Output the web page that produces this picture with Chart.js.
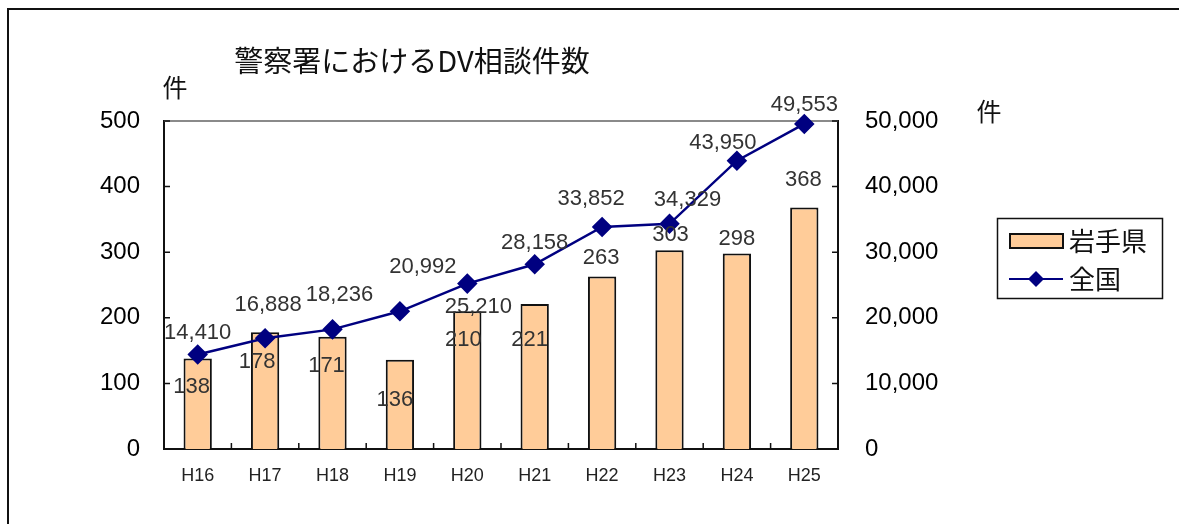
<!DOCTYPE html>
<html>
<head>
<meta charset="utf-8">
<script src="https://cdn.jsdelivr.net/npm/chart.js@4.4.0/dist/chart.umd.min.js"></script>
<style>
  html, body { margin: 0; padding: 0; background: #fff; }
  #wrap { position: relative; width: 1179px; height: 524px; }
  #frame { position: absolute; left: 7px; top: 8px; width: 1200px; height: 600px; border: 2px solid #111; box-sizing: border-box; }
  canvas { position: absolute; left: 0; top: 0; }
</style>
</head>
<body>
<div id="wrap">
  <div id="frame"></div>
  <canvas id="chart" width="1179" height="524"></canvas>
</div>
<script>
// data
const years = ['H16', 'H17', 'H18', 'H19', 'H20', 'H21', 'H22', 'H23', 'H24', 'H25'];
const iwate = [138, 178, 171, 136, 210, 221, 263, 303, 298, 368];
const national = [14410, 16888, 18236, 20992, 25210, 28158, 33852, 34329, 43950, 49553];
const leftTicks = [0, 100, 200, 300, 400, 500];
const rightTicks = [0, 10000, 20000, 30000, 40000, 50000];

// label nudges (px), as placed in the original
const barLabelShift = [[-6, 28], [-8, 30], [-6, 29], [-5, 40], [-4, 29], [-5, 36], [-1, -19], [1, -15], [0, -15], [-1, -28]];
const lineLabelShift = [[0, -22], [3, -33], [7, -34], [23, -44], [11, 23], [0, -21], [-11, -28], [18, -24], [-14, -18], [0, -19]];

const fmt = v => v.toLocaleString('en-US');
const NAVY = '#000080';
const PEACH = '#FFCC99';

const extras = {
  id: 'extras',
  beforeDatasetsDraw(chart) {
    // top border of plot (gray), under the line
    const ctx = chart.ctx, a = chart.chartArea;
    ctx.save();
    ctx.strokeStyle = '#8a8a8a';
    ctx.lineWidth = 2;
    ctx.beginPath();
    ctx.moveTo(a.left, a.top); ctx.lineTo(a.right, a.top);
    ctx.stroke();
    ctx.restore();
  },
  afterDraw(chart) {
    const ctx = chart.ctx;
    const a = chart.chartArea;
    const x = chart.scales.x, y = chart.scales.y, y1 = chart.scales.y1;
    ctx.save();

    // inward tick marks
    ctx.strokeStyle = '#111';
    ctx.lineWidth = 1.5;
    ctx.beginPath();
    leftTicks.forEach(v => { const py = y.getPixelForValue(v); ctx.moveTo(a.left, py); ctx.lineTo(a.left + 6, py); });
    rightTicks.forEach(v => { const py = y1.getPixelForValue(v); ctx.moveTo(a.right, py); ctx.lineTo(a.right - 6, py); });
    for (let i = 1; i < years.length; i++) {
      const px = (x.getPixelForValue(i - 1) + x.getPixelForValue(i)) / 2;
      ctx.moveTo(px, a.bottom); ctx.lineTo(px, a.bottom - 6);
    }
    ctx.stroke();

    // data labels
    ctx.font = '22px "Liberation Sans", Arial, sans-serif';
    ctx.fillStyle = '#333';
    ctx.textAlign = 'center';
    ctx.textBaseline = 'middle';
    chart.getDatasetMeta(0).data.forEach((bar, i) => {
      ctx.fillText(fmt(iwate[i]), bar.x + barLabelShift[i][0], bar.y + barLabelShift[i][1]);
    });
    chart.getDatasetMeta(1).data.forEach((pt, i) => {
      ctx.fillText(fmt(national[i]), pt.x + lineLabelShift[i][0], pt.y + lineLabelShift[i][1]);
    });

    // title and unit labels
    ctx.fillStyle = '#111';
    ctx.font = '29px "Noto Sans CJK JP", sans-serif';
    ctx.textAlign = 'center';
    ctx.fillText('警察署におけるDV相談件数', 412, 61);
    ctx.font = '25px "Noto Sans CJK JP", sans-serif';
    ctx.fillText('件', 175, 87);
    ctx.fillText('件', 989, 111);

    // legend
    ctx.strokeStyle = '#111';
    ctx.lineWidth = 1.5;
    ctx.strokeRect(997.5, 218.5, 165, 80);
    ctx.fillStyle = PEACH;
    ctx.fillRect(1010, 234, 53, 14);
    ctx.lineWidth = 2;
    ctx.strokeRect(1010, 234, 53, 14);
    ctx.strokeStyle = NAVY;
    ctx.beginPath();
    ctx.moveTo(1009, 279); ctx.lineTo(1063, 279);
    ctx.stroke();
    ctx.fillStyle = NAVY;
    ctx.beginPath();
    ctx.moveTo(1036, 271); ctx.lineTo(1044, 279); ctx.lineTo(1036, 287); ctx.lineTo(1028, 279);
    ctx.closePath(); ctx.fill();
    ctx.fillStyle = '#111';
    ctx.font = '26px "Noto Sans CJK JP", sans-serif';
    ctx.textAlign = 'left';
    ctx.fillText('岩手県', 1069, 241);
    ctx.fillText('全国', 1069, 279);

    ctx.restore();
  }
};

new Chart(document.getElementById('chart'), {
  type: 'bar',
  data: {
    labels: years,
    datasets: [
      {
        type: 'bar',
        label: '岩手県',
        data: iwate,
        yAxisID: 'y',
        backgroundColor: PEACH,
        borderColor: '#111',
        borderWidth: 2,
        barPercentage: 0.42,
        categoryPercentage: 1,
        order: 2
      },
      {
        type: 'line',
        label: '全国',
        data: national,
        yAxisID: 'y1',
        borderColor: NAVY,
        backgroundColor: NAVY,
        borderWidth: 2.5,
        pointStyle: 'rectRot',
        pointRadius: 8.5,
        pointHoverRadius: 8.5,
        tension: 0,
        clip: false,
        order: 1
      }
    ]
  },
  options: {
    responsive: false,
    animation: false,
    layout: { padding: { top: 121, left: 0, right: 0, bottom: 0 } },
    plugins: { legend: { display: false }, tooltip: { enabled: false } },
    scales: {
      x: {
        afterFit: s => { s.height = 75; },
        grid: { display: false, drawTicks: false },
        border: { color: '#111', width: 2 },
        ticks: { color: '#222', padding: 16, font: { family: '"Liberation Sans", Arial, sans-serif', size: 18 } }
      },
      y: {
        position: 'left',
        min: 0, max: 500,
        afterFit: s => { s.width = 164; },
        afterBuildTicks: s => { s.ticks = leftTicks.map(v => ({ value: v })); },
        grid: { display: false, drawTicks: false },
        border: { color: '#111', width: 2 },
        ticks: { color: '#000', padding: 24, font: { family: '"Liberation Sans", Arial, sans-serif', size: 24 } }
      },
      y1: {
        position: 'right',
        min: 0, max: 50000,
        afterFit: s => { s.width = 1179 - 838; },
        afterBuildTicks: s => { s.ticks = rightTicks.map(v => ({ value: v })); },
        grid: { display: false, drawTicks: false },
        border: { color: '#111', width: 2 },
        ticks: { color: '#000', padding: 27, callback: v => fmt(v), font: { family: '"Liberation Sans", Arial, sans-serif', size: 24 } }
      }
    }
  },
  plugins: [extras]
});
</script>
</body>
</html>
